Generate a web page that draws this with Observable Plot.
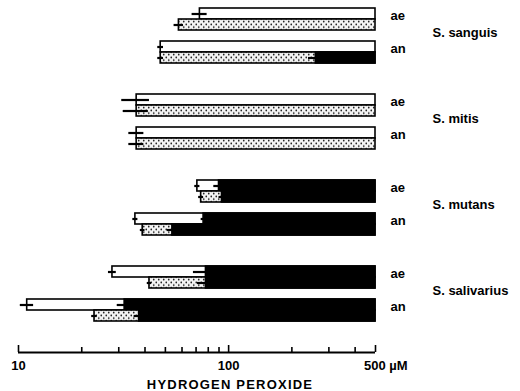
<!DOCTYPE html>
<html><head><meta charset="utf-8">
<script src="https://cdn.jsdelivr.net/npm/d3@7"></script>
<script src="https://cdn.jsdelivr.net/npm/@observablehq/plot@0.6"></script>
<style>body{margin:0;background:#fff}</style>
</head><body><div id="chart"></div>
<script>
// Categories
const speciesNames = ["S. sanguis", "S. mitis", "S. mutans", "S. salivarius"];
const conditions = ["ae", "an"];
const rowSpecies = ["S. sanguis", "S. sanguis", "S. mitis", "S. mitis", "S. mutans", "S. mutans", "S. salivarius", "S. salivarius"];
const rowCondition = ["ae", "an", "ae", "an", "ae", "an", "ae", "an"];
// Open (white) bar: start concentration (µM) and its error; black part start and its error
const openStart = [73, 47.5, 36.5, 36.5, 71, 36, 28, 11];
const openErr = [6, 1.5, 5.5, 3, 2, 1, 1.2, 0.8];
const openBlack = [null, null, null, null, 90, 76, 78, 32];
const openBlackErr = [0, 0, 0, 0, 5, 2, 10, 2.5];
// Dotted bar: start and its error; black part start and its error
const dotStart = [58, 47.5, 36.5, 36.5, 74, 39, 42, 23];
const dotErr = [3, 1.5, 5, 3, 2, 1, 1, 0.7];
const dotBlack = [null, 260, null, null, 93, 54, 78, 37.5];
const dotBlackErr = [0, 20, 0, 0, 3, 3, 7, 2];
const xMax = 500;
// Axis ticks
const majorTicks = [10, 100, 500];
const minorTicks = [20, 30, 40, 50, 60, 70, 80, 90, 200, 300, 400];
const axisTitle = "HYDROGEN PEROXIDE";
const unitLabel = "µM";

const rows = rowSpecies.map((s, i) => ({
  species: s, cond: rowCondition[i],
  openStart: openStart[i], openErr: openErr[i], openBlack: openBlack[i], openBlackErr: openBlackErr[i],
  dotStart: dotStart[i], dotErr: dotErr[i], dotBlack: dotBlack[i], dotBlackErr: dotBlackErr[i],
  end: xMax
}));
const openBlackRows = rows.filter(d => d.openBlack != null);
const dotBlackRows = rows.filter(d => d.dotBlack != null);
const axisRow = [{species: speciesNames[speciesNames.length - 1], cond: conditions[conditions.length - 1], from: majorTicks[0], to: majorTicks[majorTicks.length - 1]}];

const half = 11;
const svg = Plot.plot({
  width: 520, height: 391,
  marginLeft: 18, marginRight: 145, marginTop: 7, marginBottom: 69,
  style: {fontFamily: "'Liberation Sans', Arial, sans-serif", fontSize: "13px", fontWeight: "bold", background: "white", color: "black"},
  x: {type: "log", domain: [10, 500], label: null},
  y: {domain: conditions, paddingInner: 1/3, paddingOuter: 0, label: null},
  fy: {domain: speciesNames, paddingInner: 0.365, paddingOuter: 0, label: null},
  marks: [
    // open bars (top half of each condition band)
    Plot.barX(rows, {fy: "species", y: "cond", x1: "openStart", x2: "end", fill: "white", stroke: "black", strokeWidth: 1.6, insetBottom: half}),
    Plot.barX(openBlackRows, {fy: "species", y: "cond", x1: "openBlack", x2: "end", fill: "black", stroke: "black", strokeWidth: 1.6, insetBottom: half}),
    // dotted bars (bottom half)
    Plot.barX(rows, {fy: "species", y: "cond", x1: "dotStart", x2: "end", fill: "url(#dots)", stroke: "black", strokeWidth: 1.6, insetTop: half}),
    Plot.barX(dotBlackRows, {fy: "species", y: "cond", x1: "dotBlack", x2: "end", fill: "black", stroke: "black", strokeWidth: 1.6, insetTop: half}),
    // error lines
    Plot.ruleY(rows, {fy: "species", y: "cond", x1: d => d.openStart - d.openErr, x2: d => d.openStart + d.openErr, dy: -half / 2, strokeWidth: 2.2}),
    Plot.ruleY(rows, {fy: "species", y: "cond", x1: d => d.dotStart - d.dotErr, x2: d => d.dotStart + d.dotErr, dy: half / 2, strokeWidth: 2.2}),
    Plot.ruleY(openBlackRows, {fy: "species", y: "cond", x1: d => d.openBlack - d.openBlackErr, x2: "openBlack", dy: -half / 2, strokeWidth: 2.2}),
    Plot.ruleY(dotBlackRows, {fy: "species", y: "cond", x1: d => d.dotBlack - d.dotBlackErr, x2: "dotBlack", dy: half / 2, strokeWidth: 2.2}),
    // condition labels and species labels on the right
    Plot.axisY({anchor: "right", tickSize: 0, tickPadding: 15, dy: -4, label: null, fontSize: 13}),
    Plot.axisFy({anchor: "right", tickSize: 0, tickPadding: 57, dy: -3, label: null, fontSize: 13}),
    // x axis line (below the last row) and ticks pointing upward
    Plot.ruleY(axisRow, {fy: "species", y: "cond", x1: "from", x2: "to", dy: 42, stroke: "black", strokeWidth: 2}),
    Plot.axisX({ticks: minorTicks, tickSize: -5, tickFormat: () => "", dy: 31, label: null, strokeWidth: 1.6}),
    Plot.axisX({ticks: majorTicks, tickSize: -7, tickFormat: () => "", dy: 31, label: null, strokeWidth: 1.6}),
    Plot.axisX({ticks: [10, 100], tickSize: 0, tickPadding: 8, dy: 31, label: null, tickFormat: d => String(d)}),
    Plot.axisX({ticks: [500], tickSize: 0, tickPadding: 8, dy: 31, dx: -11.5, textAnchor: "start", label: null, tickFormat: d => d + " " + unitLabel}),
    Plot.text([axisTitle], {frameAnchor: "bottom", facetAnchor: "bottom", dy: 63, dx: 33, lineAnchor: "middle", fontSize: 13})
  ]
});

d3.select(svg).insert("defs", ":first-child").html(
  `<pattern id="dots" width="5" height="5.5" patternUnits="userSpaceOnUse">
     <rect width="5" height="5.5" fill="#f4f4f4"/>
     <circle cx="1.25" cy="1.4" r="0.85" fill="#111"/>
     <circle cx="3.75" cy="4.1" r="0.85" fill="#111"/>
   </pattern>`);
d3.select(svg).selectAll("text").filter(function() { return this.textContent === axisTitle; }).attr("letter-spacing", "1.2");
document.getElementById("chart").appendChild(svg);
</script>
</body></html>
